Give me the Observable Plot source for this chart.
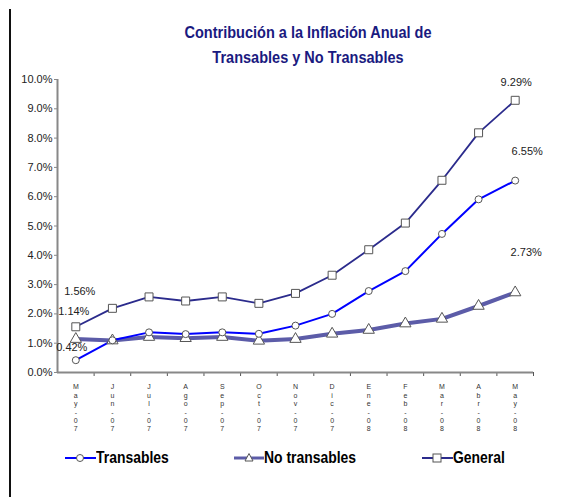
<!DOCTYPE html>
<html><head><meta charset="utf-8">
<script src="https://cdn.jsdelivr.net/npm/d3@7"></script>
<script src="https://cdn.jsdelivr.net/npm/@observablehq/plot@0.6"></script>
<style>
body{margin:0;background:#fff;}
#wrap{position:relative;width:573px;height:497px;overflow:hidden;background:#fff;font-family:"Liberation Sans",Arial,sans-serif;}
#border{position:absolute;left:9px;top:9px;width:2px;height:488px;background:#111;}
#title{position:absolute;left:108px;width:400px;top:20px;text-align:center;font-family:"Liberation Sans",Arial,sans-serif;font-weight:bold;font-size:16.5px;line-height:25px;color:#1a1a80;transform:scaleX(0.88);transform-origin:200px 0;}
#chart{position:absolute;left:0;top:70px;}
.leg{position:absolute;top:448px;height:20px;display:flex;align-items:center;font-family:"Liberation Sans",Arial,sans-serif;font-weight:bold;font-size:16px;color:#000;}
.leg svg{display:block;flex:none;}
.leg span{display:inline-block;transform:scaleX(0.87);transform-origin:0 50%;white-space:nowrap;}
</style></head>
<body>
<div id="wrap">
  <div id="border"></div>
  <div id="title">Contribución a la Inflación Anual de<br>Transables y No Transables</div>
  <div id="chart"></div>
  <div class="leg" style="left:65px"><svg width="31" height="20"><line x1="0" x2="31" y1="10" y2="10" stroke="#0000ff" stroke-width="2"/><circle cx="15" cy="10" r="3.5" fill="#fff" stroke="#555"/></svg><span>Transables</span></div>
  <div class="leg" style="left:234px"><svg width="30" height="20"><line x1="0" x2="30" y1="10" y2="10" stroke="#5c5ca8" stroke-width="3"/><path d="M15,5.5L19,13L11,13Z" fill="#fff" stroke="#555"/></svg><span>No transables</span></div>
  <div class="leg" style="left:422px"><svg width="31" height="20"><line x1="0" x2="31" y1="10" y2="10" stroke="#2b2b8c" stroke-width="2"/><rect x="11" y="6" width="8" height="8" fill="#fff" stroke="#555"/></svg><span>General</span></div>
</div>
<script>
// Months (May-07 .. May-08)
const months = ["May-07","Jun-07","Jul-07","Ago-07","Sep-07","Oct-07","Nov-07","Dic-07","Ene-08","Feb-08","Mar-08","Abr-08","May-08"];
// Contribution to annual inflation (%)
const transables   = [0.42, 1.10, 1.37, 1.31, 1.37, 1.32, 1.60, 2.00, 2.78, 3.46, 4.73, 5.91, 6.55];
const noTransables = [1.14, 1.09, 1.21, 1.17, 1.21, 1.08, 1.14, 1.32, 1.45, 1.67, 1.83, 2.27, 2.73];
const general      = [1.56, 2.19, 2.58, 2.44, 2.58, 2.36, 2.70, 3.32, 4.19, 5.10, 6.56, 8.18, 9.29];
const yTicks = [0,1,2,3,4,5,6,7,8,9,10];

const n = months.length;
const idx = (d, i) => i;
const val = d => d;
const pct = d => d.toFixed(2) + "%";
const first = (d, i) => i === 0;
const last = (d, i) => i === n - 1;
const stacked = s => s.split("").join("\n");
const lblFont = {fontSize: 11, fill: "#222", fontFamily: "Liberation Sans, Arial, sans-serif"};

const chart = Plot.plot({
  width: 573,
  height: 370,
  marginLeft: 57,
  marginRight: 40,
  marginTop: 9,
  marginBottom: 68,
  style: {fontFamily: "Liberation Sans, Arial, sans-serif", background: "transparent"},
  x: {type: "linear", domain: [-0.5, n - 0.5]},
  y: {domain: [0, 10]},
  marks: [
    Plot.axisY({ticks: yTicks, tickSize: 3, tickPadding: 2, tickFormat: d => d.toFixed(1) + "%", fontSize: 11, stroke: "#888", fill: "#222", label: null}),
    Plot.axisX({ticks: d3.range(0.5, n, 1), tickSize: 4, tickFormat: () => "", stroke: "#555", label: null}),
    Plot.axisX({ticks: d3.range(0, n, 1), tickSize: 0, tickPadding: 11, tickFormat: i => stacked(months[i]), lineAnchor: "top", lineHeight: 1.2, fontSize: 7, fill: "#333", label: null}),
    Plot.ruleY([0], {stroke: "#888", strokeWidth: 2}),
    Plot.ruleX([-0.5], {stroke: "#888", strokeWidth: 2}),
    Plot.line(noTransables, {x: idx, y: val, stroke: "#5c5ca8", strokeWidth: 4}),
    Plot.line(transables, {x: idx, y: val, stroke: "#0000ff", strokeWidth: 2}),
    Plot.line(general, {x: idx, y: val, stroke: "#2b2b8c", strokeWidth: 1.8}),
    Plot.dot(noTransables, {x: idx, y: val, symbol: "triangle", r: 4.2, fill: "white", stroke: "#555", strokeWidth: 1}),
    Plot.dot(transables, {x: idx, y: val, symbol: "circle", r: 3.5, fill: "white", stroke: "#555", strokeWidth: 1}),
    Plot.dot(general, {x: idx, y: val, symbol: "square", r: 4.5, fill: "white", stroke: "#555", strokeWidth: 1}),
    Plot.text(general, {filter: first, x: idx, y: val, text: pct, dx: 4, dy: -35, ...lblFont}),
    Plot.text(noTransables, {filter: first, x: idx, y: val, text: pct, dx: -2, dy: -28, ...lblFont}),
    Plot.text(transables, {filter: first, x: idx, y: val, text: pct, dx: -4, dy: -13, ...lblFont}),
    Plot.text(general, {filter: last, x: idx, y: val, text: pct, dx: 1, dy: -18, ...lblFont}),
    Plot.text(transables, {filter: last, x: idx, y: val, text: pct, dx: 12, dy: -29, ...lblFont}),
    Plot.text(noTransables, {filter: last, x: idx, y: val, text: pct, dx: 11, dy: -40, ...lblFont})
  ]
});
document.getElementById("chart").appendChild(chart);
</script>
</body></html>
